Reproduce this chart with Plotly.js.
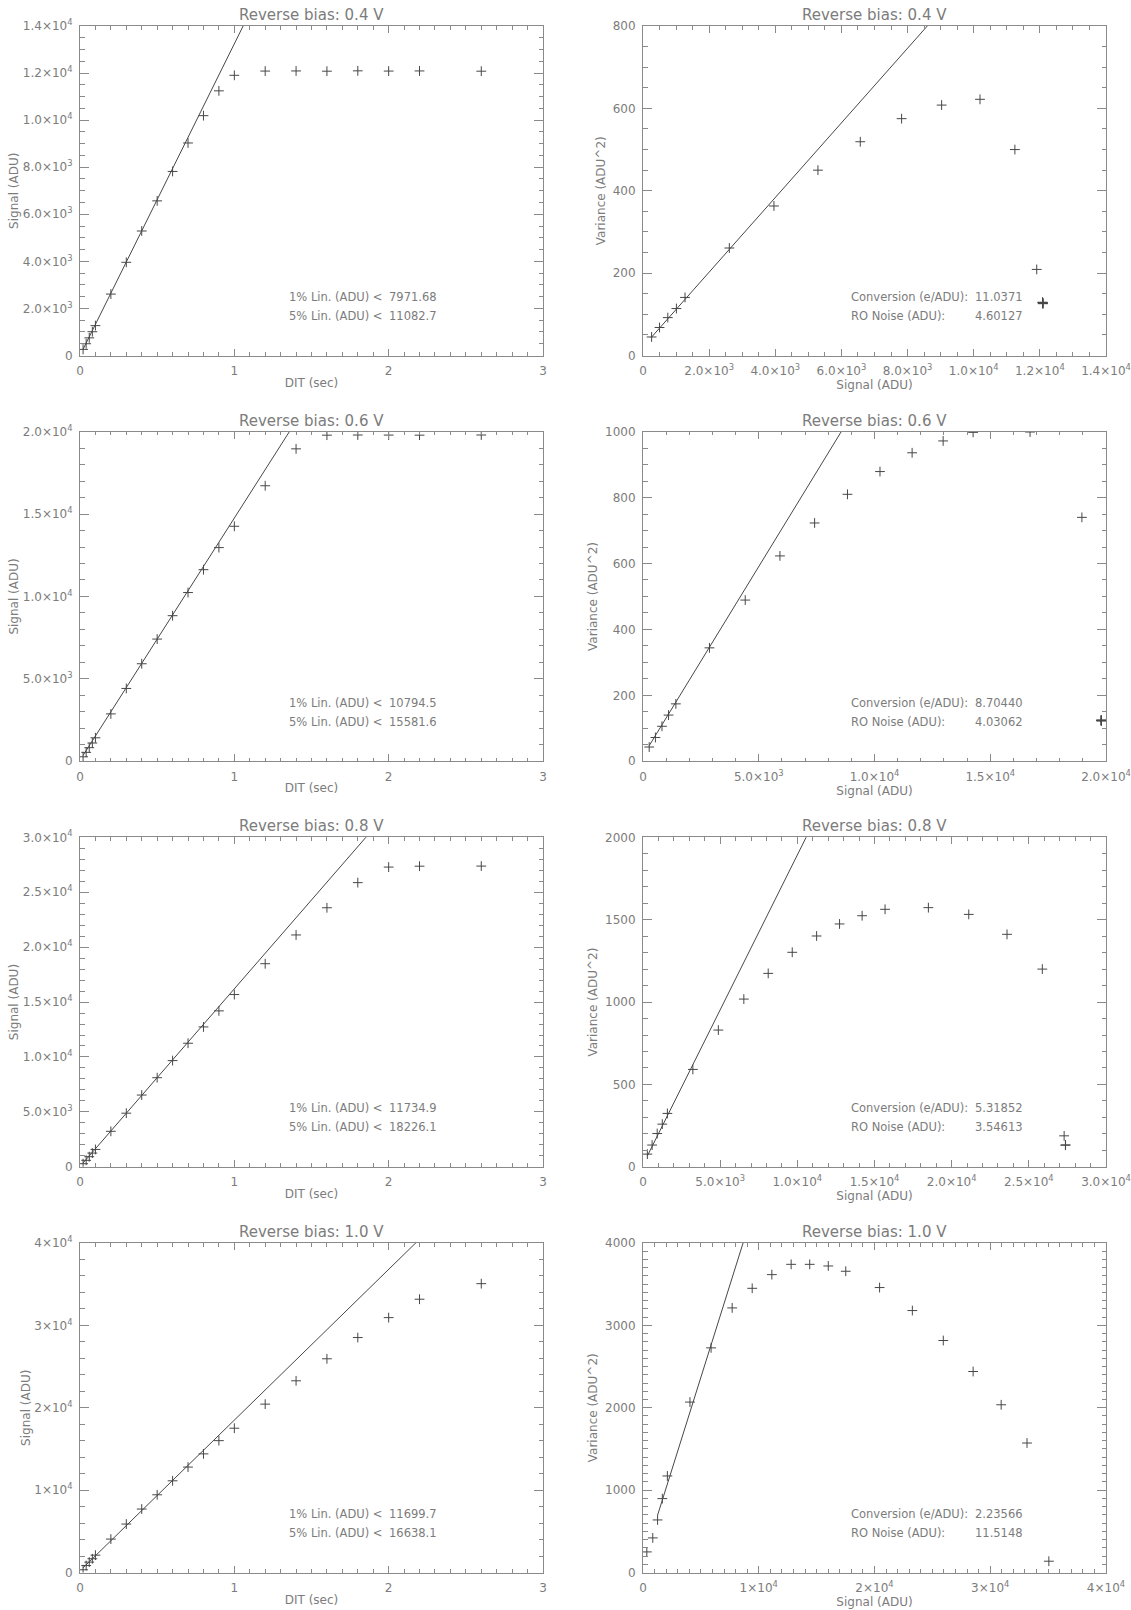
<!DOCTYPE html>
<html>
<head>
<meta charset="utf-8">
<script src="https://cdn.plot.ly/plotly-3.0.1.min.js"></script>
<style>
  html, body { margin: 0; padding: 0; background: #ffffff; }
  #chart { width: 1131px; height: 1610px; }
</style>
</head>
<body>
<div id="chart"></div>
<script>
// Integration times (s) of the exposure ramp, same for every bias setting
const dit = [0.02, 0.04, 0.06, 0.08, 0.1, 0.2, 0.3, 0.4, 0.5, 0.6, 0.7, 0.8, 0.9, 1.0, 1.2, 1.4, 1.6, 1.8, 2.0, 2.2, 2.6];

const biasVolts = ['0.4', '0.6', '0.8', '1.0'];

// Mean signal (ADU) per exposure
const signal04 = [260, 500, 750, 1010, 1270, 2610, 3960, 5290, 6570, 7820, 9030, 10190, 11245, 11905, 12085, 12090, 12080, 12095, 12085, 12090, 12080];
const signal06 = [268, 536, 820, 1104, 1420, 2871, 4416, 5915, 7413, 8833, 10237, 11625, 12965, 14259, 16719, 18959, 19790, 19800, 19795, 19790, 19800];
const signal08 = [283, 590, 920, 1250, 1580, 3231, 4882, 6533, 8113, 9670, 11250, 12736, 14198, 15684, 18491, 21108, 23585, 25873, 27288, 27370, 27380];
const signal10 = [330, 845, 1260, 1670, 2105, 4057, 5881, 7704, 9434, 11132, 12799, 14403, 16006, 17516, 20440, 23270, 25943, 28522, 30943, 33176, 35063];

// Pixel variance (ADU^2) per exposure
const variance04 = [45, 68, 92, 114, 141, 261, 363, 450, 519, 575, 608, 622, 500, 209, 128, 126, 129, 127, 128, 126, 129];
const variance06 = [43, 72, 106, 140, 174, 344, 489, 623, 723, 810, 879, 936, 972, 998, 999, 740, 124, 122, 125, 123, 124];
const variance08 = [77, 132, 202, 259, 324, 591, 830, 1018, 1174, 1302, 1401, 1474, 1524, 1563, 1573, 1532, 1411, 1200, 188, 131, 133];
const variance10 = [250, 420, 638, 897, 1172, 2069, 2727, 3212, 3450, 3616, 3741, 3741, 3721, 3657, 3459, 3180, 2816, 2440, 2036, 1572, 137];

// Linear fit of signal against DIT: slope (ADU/s) and offset (ADU)
const rampSlope = [13245, 14700, 16180, 18300];
const rampOffset = [0, 60, 25, 200];

// Linearity limits (ADU)
const lin1pct = [7971.68, 10794.5, 11734.9, 11699.7];
const lin5pct = [11082.7, 15581.6, 18226.1, 16638.1];

// Photon transfer results
const conversion = [11.0371, 8.70440, 5.31852, 2.23566];   // e/ADU
const roNoise = [4.60127, 4.03062, 3.54613, 11.5148];      // ADU
const ptcFitStart = [242, 268, 283, 1260];                 // lowest signal used in the fit (ADU)

// Axis ranges
const ditRange = [0, 3];
const signalMax = [14000, 20000, 30000, 40000];
const varianceMax = [800, 1000, 2000, 4000];

// Tick positions and labels
const ditTicks = [0, 1, 2, 3];
const ditTickText = ['0', '1', '2', '3'];
const sigTicks = [
  [0, 2000, 4000, 6000, 8000, 10000, 12000, 14000],
  [0, 5000, 10000, 15000, 20000],
  [0, 5000, 10000, 15000, 20000, 25000, 30000],
  [0, 10000, 20000, 30000, 40000]
];
const sigTickText = [
  ['0', '2.0\u00d710<sup>3</sup>', '4.0\u00d710<sup>3</sup>', '6.0\u00d710<sup>3</sup>', '8.0\u00d710<sup>3</sup>', '1.0\u00d710<sup>4</sup>', '1.2\u00d710<sup>4</sup>', '1.4\u00d710<sup>4</sup>'],
  ['0', '5.0\u00d710<sup>3</sup>', '1.0\u00d710<sup>4</sup>', '1.5\u00d710<sup>4</sup>', '2.0\u00d710<sup>4</sup>'],
  ['0', '5.0\u00d710<sup>3</sup>', '1.0\u00d710<sup>4</sup>', '1.5\u00d710<sup>4</sup>', '2.0\u00d710<sup>4</sup>', '2.5\u00d710<sup>4</sup>', '3.0\u00d710<sup>4</sup>'],
  ['0', '1\u00d710<sup>4</sup>', '2\u00d710<sup>4</sup>', '3\u00d710<sup>4</sup>', '4\u00d710<sup>4</sup>']
];
const varTicks = [
  [0, 200, 400, 600, 800],
  [0, 200, 400, 600, 800, 1000],
  [0, 500, 1000, 1500, 2000],
  [0, 1000, 2000, 3000, 4000]
];
const varTickText = [
  ['0', '200', '400', '600', '800'],
  ['0', '200', '400', '600', '800', '1000'],
  ['0', '500', '1000', '1500', '2000'],
  ['0', '1000', '2000', '3000', '4000']
];
// Minor tick spacing
const ditMinor = 0.1;
const sigMinorLeft = [500, 1000, 1000, 2000];
const sigMinorRight = [500, 1000, 1000, 1000];
const varMinor = [50, 50, 100, 100];

const signals = [signal04, signal06, signal08, signal10];
const variances = [variance04, variance06, variance08, variance10];

// ---- styling ----
const FONT = 'DejaVu Sans, Liberation Sans, sans-serif';
const TEXT = '#7c7c7c';
const FRAME = '#8a8a8a';
const INK = '#474747';

const W = 1131, H = 1610;
const colLeft = [80 / W, 543 / W];
const colRight = [643 / W, 1106 / W];
const rowTop = [26, 431.7, 837.3, 1243];
const rowHeight = 329.5;

function rowDomain(r) {
  return [1 - (rowTop[r] + rowHeight) / H, 1 - rowTop[r] / H];
}

function makeAxis(opts) {
  const isX = opts.letter === 'x';
  return {
    domain: opts.domain,
    anchor: opts.anchor,
    range: opts.range,
    autorange: false,
    showline: true, linecolor: FRAME, linewidth: 1, mirror: 'ticks',
    ticks: 'inside', ticklen: isX ? 7 : 9, tickwidth: 1, tickcolor: FRAME,
    tickmode: 'array', tickvals: opts.tickvals, ticktext: opts.ticktext,
    ticklabelstandoff: 4,
    tickfont: { family: FONT, size: 12, color: TEXT },
    minor: {
      ticks: 'inside', ticklen: isX ? 3.5 : 4.5, tickwidth: 1, tickcolor: FRAME,
      tickmode: 'linear', tick0: 0, dtick: opts.minor, showgrid: false
    },
    showgrid: false, zeroline: false,
    title: { text: opts.title, font: { family: FONT, size: 12, color: TEXT }, standoff: opts.standoff }
  };
}

const traces = [];
const layout = {
  width: W, height: H,
  margin: { l: 0, r: 0, t: 0, b: 0 },
  paper_bgcolor: '#ffffff', plot_bgcolor: '#ffffff',
  showlegend: false,
  annotations: []
};

const plusMarker = { symbol: 'cross-thin', size: 7, color: INK, line: { color: INK, width: 1 } };
const noteFont = { family: FONT, size: 11.5, color: TEXT };

for (let r = 0; r < 4; r++) {
  const li = 2 * r + 1, ri = 2 * r + 2;
  const lx = li === 1 ? 'x' : 'x' + li, ly = li === 1 ? 'y' : 'y' + li;
  const rx = 'x' + ri, ry = 'y' + ri;
  const sig = signals[r], vr = variances[r];

  // signal vs integration time
  traces.push({ type: 'scatter', mode: 'markers', x: dit, y: sig, xaxis: lx, yaxis: ly,
    marker: plusMarker, hoverinfo: 'x+y' });
  const rampX = [dit[0], ditRange[1]];
  traces.push({ type: 'scatter', mode: 'lines', xaxis: lx, yaxis: ly,
    x: rampX, y: rampX.map(t => rampOffset[r] + rampSlope[r] * t),
    line: { color: INK, width: 1 }, hoverinfo: 'skip' });

  // variance vs signal (photon transfer)
  traces.push({ type: 'scatter', mode: 'markers', x: sig, y: vr, xaxis: rx, yaxis: ry,
    marker: plusMarker, hoverinfo: 'x+y' });
  const ptcX = [ptcFitStart[r], signalMax[r]];
  traces.push({ type: 'scatter', mode: 'lines', xaxis: rx, yaxis: ry,
    x: ptcX, y: ptcX.map(s => roNoise[r] * roNoise[r] + s / conversion[r]),
    line: { color: INK, width: 1 }, hoverinfo: 'skip' });

  const yd = rowDomain(r);
  const key = n => (n === 1 ? '' : n);
  layout['xaxis' + key(li)] = makeAxis({ letter: 'x', domain: colLeft, anchor: ly, range: ditRange,
    tickvals: ditTicks, ticktext: ditTickText, minor: ditMinor, title: 'DIT (sec)', standoff: 1 });
  layout['yaxis' + key(li)] = makeAxis({ letter: 'y', domain: yd, anchor: lx, range: [0, signalMax[r]],
    tickvals: sigTicks[r], ticktext: sigTickText[r], minor: sigMinorLeft[r], title: 'Signal (ADU)', standoff: 1 });
  layout['xaxis' + ri] = makeAxis({ letter: 'x', domain: colRight, anchor: ry, range: [0, signalMax[r]],
    tickvals: sigTicks[r], ticktext: sigTickText[r], minor: sigMinorRight[r], title: 'Signal (ADU)', standoff: 1 });
  layout['yaxis' + ri] = makeAxis({ letter: 'y', domain: yd, anchor: rx, range: [0, varianceMax[r]],
    tickvals: varTicks[r], ticktext: varTickText[r], minor: varMinor[r], title: 'Variance (ADU^2)', standoff: 4 });

  // panel titles
  [[lx, ly], [rx, ry]].forEach(([xa, ya]) => {
    layout.annotations.push({
      text: 'Reverse bias: ' + biasVolts[r] + ' V',
      xref: xa + ' domain', yref: ya + ' domain',
      x: 0.5, y: 1, xanchor: 'center', yanchor: 'bottom', yshift: 0,
      showarrow: false, font: { family: FONT, size: 15, color: TEXT }
    });
  });

  // linearity limits
  const leftNotes = [['1% Lin. (ADU) <', lin1pct[r], 0.178], ['5% Lin. (ADU) <', lin5pct[r], 0.12]];
  leftNotes.forEach(([label, val, yy]) => {
    layout.annotations.push({ text: label, xref: lx + ' domain', yref: ly + ' domain',
      x: 0.447, y: yy, xanchor: 'left', yanchor: 'middle', showarrow: false, font: noteFont });
    layout.annotations.push({ text: val.toPrecision(6), xref: lx + ' domain', yref: ly + ' domain',
      x: 0.775, y: yy, xanchor: 'right', yanchor: 'middle', showarrow: false, font: noteFont });
  });

  // conversion gain and read-out noise
  const rightNotes = [['Conversion (e/ADU):', conversion[r], 0.178], ['RO Noise (ADU):', roNoise[r], 0.12]];
  rightNotes.forEach(([label, val, yy]) => {
    layout.annotations.push({ text: label, xref: rx + ' domain', yref: ry + ' domain',
      x: 0.446, y: yy, xanchor: 'left', yanchor: 'middle', showarrow: false, font: noteFont });
    layout.annotations.push({ text: val.toPrecision(6), xref: rx + ' domain', yref: ry + ' domain',
      x: 0.825, y: yy, xanchor: 'right', yanchor: 'middle', showarrow: false, font: noteFont });
  });
}

Plotly.newPlot('chart', traces, layout, { staticPlot: true, displayModeBar: false });
</script>
</body>
</html>
